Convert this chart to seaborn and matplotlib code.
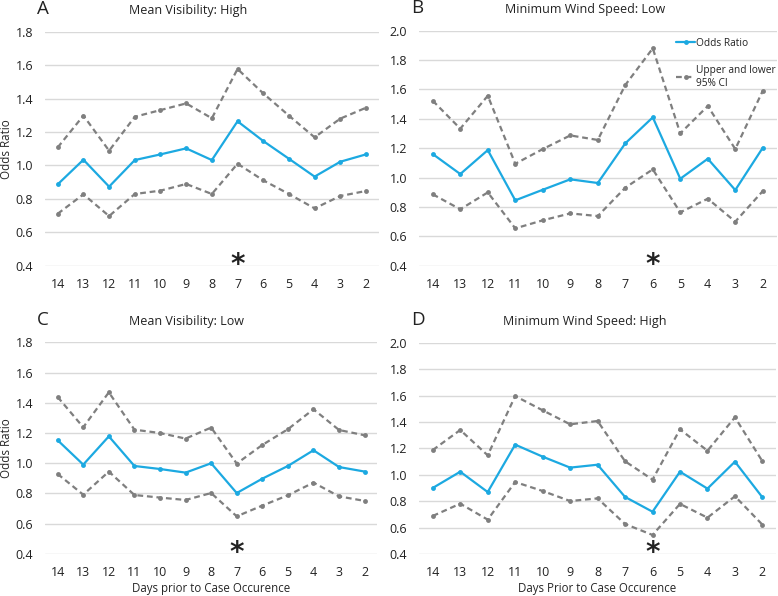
import pandas as pd
import matplotlib
matplotlib.use("Agg")
import matplotlib.pyplot as plt
import seaborn as sns

days = ["14", "13", "12", "11", "10", "9", "8", "7", "6", "5", "4", "3", "2"]

# A: Mean Visibility: High
a_or = [0.887, 1.034, 0.873, 1.032, 1.066, 1.102, 1.032, 1.264, 1.146, 1.040, 0.933, 1.022, 1.066]
a_up = [1.108, 1.298, 1.088, 1.291, 1.331, 1.371, 1.282, 1.577, 1.431, 1.298, 1.168, 1.280, 1.345]
a_lo = [0.711, 0.827, 0.697, 0.829, 0.849, 0.889, 0.829, 1.010, 0.911, 0.829, 0.743, 0.817, 0.847]

# B: Minimum Wind Speed: Low
b_or = [1.160, 1.024, 1.187, 0.845, 0.917, 0.988, 0.963, 1.233, 1.410, 0.992, 1.128, 0.915, 1.203]
b_up = [1.523, 1.333, 1.557, 1.094, 1.194, 1.287, 1.256, 1.630, 1.880, 1.301, 1.487, 1.194, 1.591]
b_lo = [0.886, 0.784, 0.899, 0.654, 0.709, 0.756, 0.738, 0.931, 1.056, 0.763, 0.856, 0.700, 0.908]

# C: Mean Visibility: Low
c_or = [1.152, 0.991, 1.178, 0.982, 0.962, 0.938, 1.000, 0.803, 0.898, 0.982, 1.086, 0.975, 0.945]
c_up = [1.438, 1.238, 1.469, 1.222, 1.200, 1.163, 1.236, 0.998, 1.121, 1.225, 1.357, 1.220, 1.185]
c_lo = [0.929, 0.792, 0.945, 0.790, 0.773, 0.757, 0.803, 0.649, 0.720, 0.788, 0.872, 0.781, 0.751]

# D: Minimum Wind Speed: High
d_or = [0.900, 1.023, 0.869, 1.228, 1.137, 1.054, 1.076, 0.832, 0.720, 1.023, 0.895, 1.099, 0.829]
d_up = [1.187, 1.339, 1.147, 1.596, 1.488, 1.382, 1.407, 1.102, 0.963, 1.344, 1.182, 1.435, 1.102]
d_lo = [0.688, 0.781, 0.660, 0.945, 0.877, 0.801, 0.821, 0.627, 0.544, 0.779, 0.675, 0.837, 0.622]

BLUE = "#1CA9E1"
GRAY = "#7F7F7F"
DASH = (0, (2.6, 1.7))

sns.set_style("white")
plt.rcParams["font.family"] = ["Open Sans", "DejaVu Sans"]
plt.rcParams["text.color"] = "#222222"

panels = [
    dict(letter="A", title="Mean Visibility: High", odds=a_or, up=a_up, lo=a_lo,
         star="7", ymax=1.8, rect=[0.0577, 0.5542, 0.4292, 0.3926], title_x=0.43,
         ylabel="Odds Ratio", xlabel=None, legend=False),
    dict(letter="B", title="Minimum Wind Speed: Low", odds=b_or, up=b_up, lo=b_lo,
         star="6", ymax=2.0, rect=[0.5386, 0.5542, 0.4595, 0.3943], title_x=0.465,
         ylabel=None, xlabel=None, legend=True),
    dict(letter="C", title="Mean Visibility: Low", odds=c_or, up=c_up, lo=c_lo,
         star="7", ymax=1.8, rect=[0.0577, 0.0705, 0.4274, 0.3552], title_x=0.426,
         ylabel="Odds Ratio", xlabel="Days prior to Case Occurence", legend=False),
    dict(letter="D", title="Minimum Wind Speed: High", odds=d_or, up=d_up, lo=d_lo,
         star="6", ymax=2.0, rect=[0.5386, 0.0705, 0.4590, 0.3545], title_x=0.465,
         ylabel=None, xlabel="Days Prior to Case Occurence", legend=False),
]

fig = plt.figure(figsize=(7.78, 5.96), dpi=100)

for p in panels:
    ax = fig.add_axes(p["rect"])
    df = pd.DataFrame({"day": days, "odds": p["odds"], "up": p["up"], "lo": p["lo"]})

    sns.lineplot(data=df, x="day", y="up", ax=ax, color=GRAY, lw=1.6,
                 linestyle=DASH, marker="o", markersize=3.5,
                 markeredgewidth=0, label="Upper and lower\n95% CI", sort=False)
    sns.lineplot(data=df, x="day", y="lo", ax=ax, color=GRAY, lw=1.6,
                 linestyle=DASH, marker="o", markersize=3.5,
                 markeredgewidth=0, sort=False)
    sns.lineplot(data=df, x="day", y="odds", ax=ax, color=BLUE, lw=1.6,
                 marker="o", markersize=3.5, markeredgewidth=0,
                 label="Odds Ratio", sort=False)

    ax.set_xlim(-0.5, len(days) - 0.5)
    ax.set_ylim(0.4, p["ymax"])
    n = int(round((p["ymax"] - 0.4) / 0.2))
    ax.set_yticks([round(0.4 + 0.2 * i, 1) for i in range(n + 1)])
    ax.yaxis.set_major_formatter(matplotlib.ticker.FormatStrFormatter("%.1f"))
    ax.grid(axis="y", color="#D9D9D9", lw=1)
    ax.set_axisbelow(True)
    sns.despine(ax=ax, left=True, bottom=True)
    ax.tick_params(axis="both", length=0, labelsize=9, colors="#222222")
    ax.tick_params(axis="x", pad=9)
    ax.tick_params(axis="y", pad=8.5)

    if p["ylabel"]:
        ax.set_ylabel(p["ylabel"], fontsize=8.4)
        ax.yaxis.set_label_coords(-0.097, 0.5)
    else:
        ax.set_ylabel("")
    ax.set_xlabel(p["xlabel"] or "", fontsize=8.3, labelpad=2)

    ax.set_title(p["title"], fontsize=9, pad=12.5, x=p["title_x"])
    ax.annotate(p["letter"], xy=(0, 1), xycoords="axes fraction",
                xytext=(-5.5, 12.5), textcoords="offset points",
                fontsize=13.5, ha="left", va="baseline")

    ax.annotate("*", xy=(days.index(p["star"]), 0.4), xycoords="data",
                xytext=(0, -5.3), textcoords="offset points",
                fontsize=20, fontweight="bold", ha="center", va="baseline",
                family="DejaVu Sans")

    if p["legend"]:
        h, l = ax.get_legend_handles_labels()
        ax.legend([h[1], h[0]], [l[1], l[0]], loc="upper left",
                  bbox_to_anchor=(0.72, 0.97), frameon=False,
                  fontsize=7.3, handlelength=1.8, handletextpad=0.1,
                  borderaxespad=0, borderpad=0, labelspacing=1.6)
    else:
        leg = ax.get_legend()
        if leg:
            leg.remove()

fig.savefig("out.png", dpi=100)
